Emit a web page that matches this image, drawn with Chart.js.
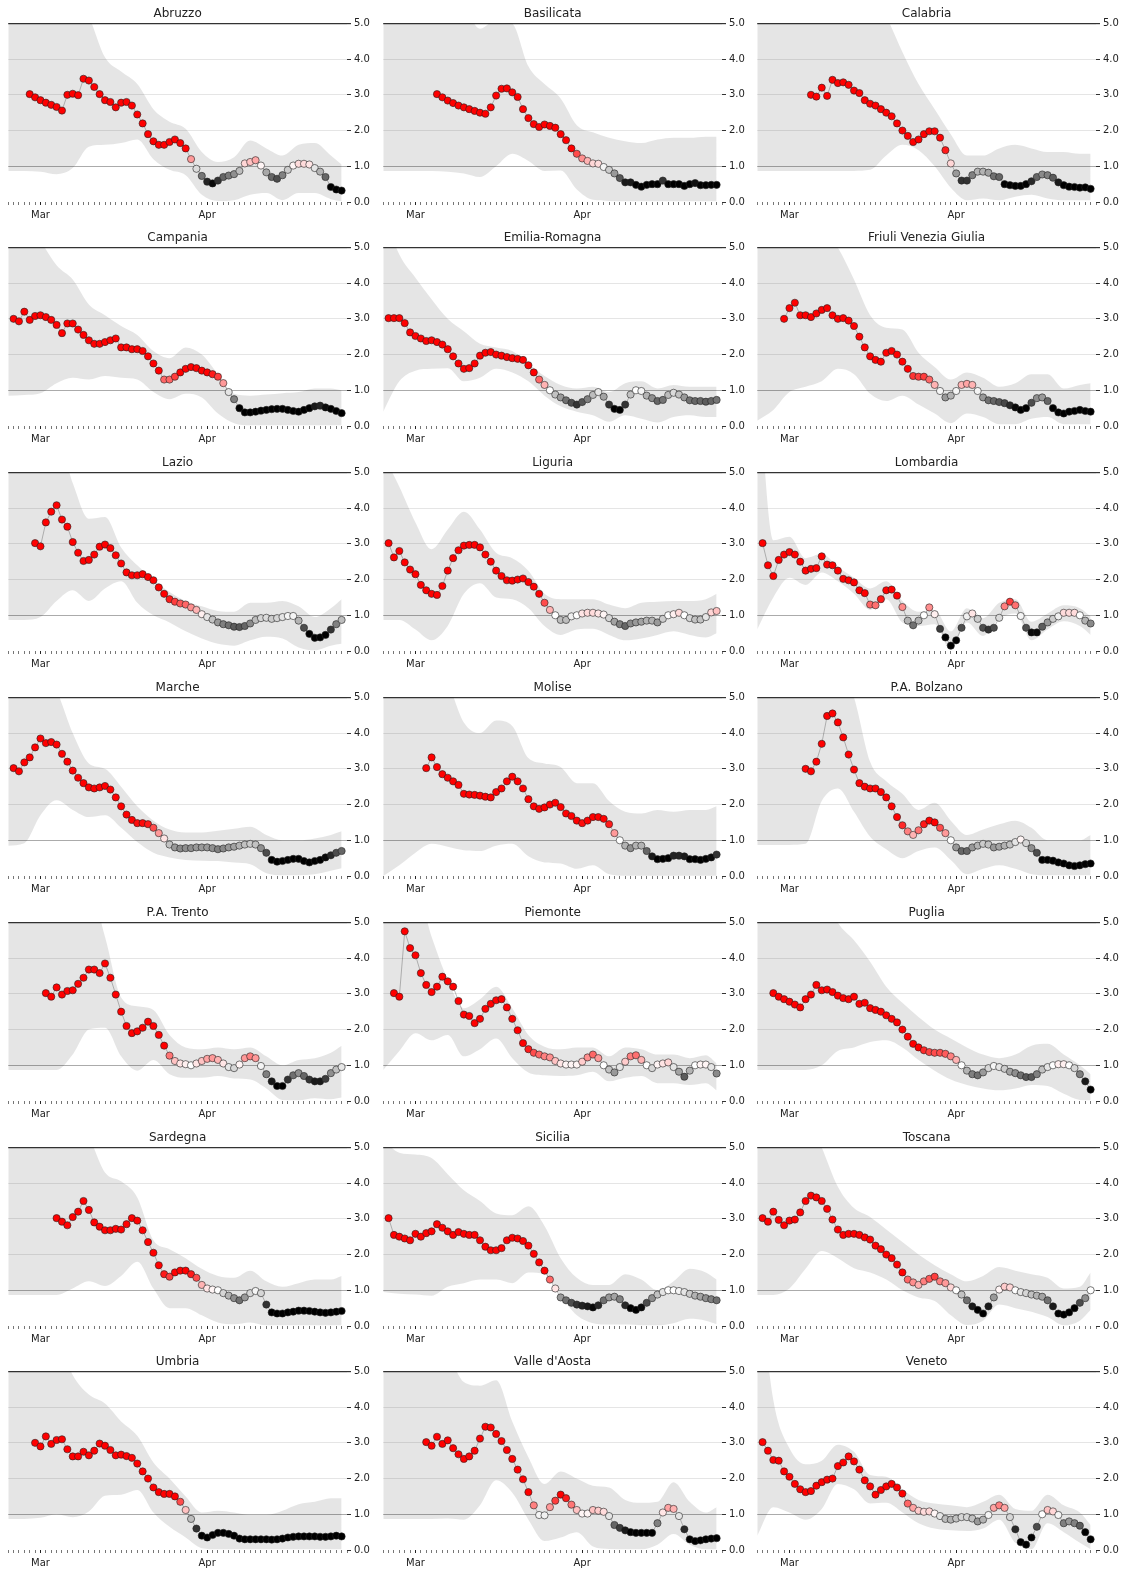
<!DOCTYPE html>
<html>
<head>
<meta charset="utf-8">
<script src="https://cdn.jsdelivr.net/npm/chart.js@4.4.0/dist/chart.umd.min.js"></script>
<style>
  body { margin: 0; background: #fff; width: 1126px; height: 1574px; position: relative; overflow: hidden; }
  canvas { position: absolute; }
</style>
</head>
<body>
<script>
// day index 0 = 2020-02-25, last value of every series is day 61 (2020-04-26)
const lastDay = 61;
const monthDays = [5, 36];
const monthLabels = ['Mar', 'Apr'];
const bandDays = [-1, 2, 5, 8, 11, 14, 17, 20, 23, 26, 29, 32, 35, 38, 41, 44, 47, 50, 53, 56, 59, 61];

const regionNames = ['Abruzzo', 'Basilicata', 'Calabria', 'Campania', 'Emilia-Romagna', 'Friuli Venezia Giulia',
  'Lazio', 'Liguria', 'Lombardia', 'Marche', 'Molise', 'P.A. Bolzano', 'P.A. Trento', 'Piemonte', 'Puglia',
  'Sardegna', 'Sicilia', 'Toscana', 'Umbria', "Valle d'Aosta", 'Veneto'];

const rtAbruzzo = [3.02,2.93,2.85,2.78,2.72,2.66,2.56,3.0,3.03,2.99,3.45,3.4,3.22,3.02,2.85,2.8,2.65,2.78,2.8,2.7,2.45,2.2,1.9,1.7,1.6,1.6,1.68,1.75,1.65,1.5,1.2,0.93,0.73,0.57,0.52,0.6,0.7,0.74,0.78,0.87,1.08,1.12,1.17,1.02,0.83,0.7,0.65,0.75,0.9,1.02,1.07,1.07,1.05,0.95,0.85,0.7,0.42,0.35,0.32];
const lowAbruzzo = [0.87,0.87,0.85,0.78,0.95,1.55,1.6,1.65,1.75,1.2,0.9,0.75,0.2,0.03,0.05,0.2,0.25,0.05,0.25,0.25,0.08,0.02];
const highAbruzzo = [6,6,6,6,6,5.2,4.05,3.65,3.3,2.6,2.25,2.05,1.4,1.12,1.25,1.72,1.5,1.3,1.6,1.65,1.3,1.05];

const rtBasilicata = [3.02,2.93,2.84,2.77,2.7,2.65,2.6,2.55,2.5,2.47,2.65,2.98,3.17,3.18,3.07,2.94,2.6,2.35,2.18,2.1,2.17,2.13,2.08,1.9,1.73,1.5,1.35,1.22,1.15,1.08,1.07,0.98,0.9,0.8,0.67,0.55,0.55,0.48,0.43,0.48,0.5,0.5,0.6,0.5,0.5,0.5,0.45,0.5,0.53,0.47,0.47,0.48,0.48];
const lowBasilicata = [0.87,0.87,0.87,0.87,0.85,0.8,0.7,1.0,1.35,1.15,0.87,0.88,0.35,0.06,0.03,0.02,0.02,0.02,0.02,0.02,0.02,0.02];
const highBasilicata = [6,6,6,6,6,5.5,4.85,5.1,5.0,3.8,3.3,2.9,2.15,1.95,1.8,1.7,1.65,1.75,1.8,1.8,1.83,1.83];

const rtCalabria = [3.0,2.95,3.2,2.97,3.42,3.33,3.35,3.28,3.12,3.05,2.85,2.75,2.7,2.6,2.5,2.4,2.2,2.0,1.85,1.68,1.75,1.9,1.98,1.98,1.8,1.45,1.08,0.8,0.6,0.6,0.75,0.85,0.85,0.82,0.72,0.7,0.5,0.47,0.45,0.45,0.5,0.58,0.7,0.77,0.75,0.68,0.55,0.47,0.43,0.42,0.4,0.41,0.37];
const lowCalabria = [0.87,0.87,0.87,0.87,0.87,0.87,0.87,0.9,1.3,1.6,1.45,1.0,0.4,0.05,0.1,0.05,0.15,0.2,0.1,0.05,0.05,0.05];
const highCalabria = [6,6,6,6,6,6,6,6,5.2,4.2,3.3,2.6,1.9,1.3,1.3,1.5,1.6,1.5,1.4,1.4,1.35,1.35];

const rtCampania = [3.0,2.93,3.2,2.97,3.08,3.1,3.05,2.97,2.83,2.6,2.87,2.87,2.7,2.55,2.4,2.3,2.3,2.35,2.4,2.45,2.2,2.2,2.15,2.15,2.1,1.95,1.75,1.55,1.3,1.3,1.38,1.5,1.6,1.65,1.62,1.55,1.5,1.45,1.38,1.2,0.95,0.75,0.5,0.38,0.38,0.4,0.43,0.45,0.47,0.48,0.48,0.45,0.42,0.4,0.45,0.5,0.55,0.57,0.52,0.48,0.42,0.36];
const lowCampania = [0.85,0.87,0.92,1.2,1.35,1.3,1.4,1.35,1.3,0.95,0.75,0.9,0.8,0.35,0.08,0.02,0.02,0.02,0.02,0.02,0.02,0.02];
const highCampania = [6,6,5.2,4.5,4.1,3.4,3.1,2.8,2.55,2.1,1.9,2.2,2.0,1.45,0.9,0.85,0.88,0.92,0.95,1.05,1.05,1.0];

const rtEmiliaRomagna = [3.02,3.02,3.02,2.88,2.62,2.52,2.45,2.38,2.4,2.35,2.28,2.15,1.95,1.75,1.6,1.62,1.75,1.97,2.05,2.07,2.0,1.97,1.93,1.9,1.88,1.85,1.7,1.5,1.3,1.15,1.0,0.88,0.8,0.72,0.65,0.6,0.67,0.75,0.87,0.95,0.82,0.6,0.48,0.45,0.6,0.88,1.0,0.98,0.85,0.78,0.7,0.73,0.87,0.93,0.88,0.8,0.72,0.7,0.7,0.68,0.7,0.73];
const lowEmiliaRomagna = [0.4,1.25,1.55,1.6,1.62,1.25,1.35,1.6,1.5,1.25,0.85,0.55,0.4,0.3,0.12,0.3,0.2,0.1,0.25,0.3,0.25,0.25];
const highEmiliaRomagna = [6,4.8,4.15,3.55,3.0,2.65,2.3,2.2,2.1,1.75,1.4,1.15,1.05,1.1,0.95,1.2,1.25,1.05,1.15,1.1,1.1,1.1];

const rtFriuli = [3.0,3.3,3.45,3.1,3.1,3.05,3.15,3.25,3.3,3.1,3.0,3.02,2.95,2.8,2.5,2.2,1.95,1.85,1.8,2.05,2.1,2.0,1.8,1.6,1.4,1.38,1.38,1.3,1.15,0.98,0.8,0.85,0.98,1.15,1.18,1.15,0.98,0.8,0.72,0.7,0.67,0.64,0.58,0.52,0.45,0.5,0.65,0.78,0.8,0.7,0.5,0.38,0.35,0.4,0.42,0.45,0.42,0.4];
const lowFriuli = [0.15,0.45,0.95,1.1,1.25,1.6,1.45,0.9,0.7,0.85,0.6,0.35,0.08,0.35,0.25,0.05,0.05,0.2,0.25,0.05,0.05,0.05];
const highFriuli = [6,6,6,6,5.6,5.0,4.1,3.1,2.75,2.7,2.05,1.65,1.3,1.5,1.35,1.1,1.2,1.45,1.45,1.05,1.15,1.2];

const rtLazio = [3.02,2.93,3.6,3.9,4.08,3.68,3.48,3.05,2.75,2.52,2.55,2.7,2.92,2.98,2.88,2.68,2.45,2.2,2.12,2.12,2.15,2.07,1.98,1.78,1.6,1.45,1.38,1.33,1.3,1.22,1.15,1.03,0.95,0.88,0.8,0.75,0.72,0.68,0.67,0.7,0.77,0.87,0.92,0.93,0.9,0.92,0.95,0.98,0.98,0.85,0.65,0.48,0.37,0.38,0.45,0.6,0.75,0.87];
const lowLazio = [0.87,0.87,0.95,1.4,1.7,1.4,1.75,1.95,1.35,1.0,0.8,0.55,0.35,0.2,0.15,0.3,0.4,0.35,0.1,0.02,0.15,0.2];
const highLazio = [6,6,6,6,4.7,3.7,3.75,2.9,2.4,2.0,1.65,1.4,1.25,1.12,1.1,1.35,1.35,1.4,1.25,0.95,1.2,1.45];

const rtLiguria = [3.02,2.62,2.8,2.48,2.28,2.15,1.85,1.7,1.6,1.57,1.82,2.25,2.6,2.82,2.95,2.97,2.97,2.9,2.7,2.5,2.25,2.1,1.98,1.97,2.0,2.03,1.93,1.8,1.6,1.35,1.15,1.0,0.87,0.87,0.97,1.0,1.05,1.07,1.07,1.05,1.02,0.92,0.82,0.75,0.7,0.77,0.8,0.82,0.85,0.85,0.8,0.9,1.0,1.03,1.07,1.0,0.92,0.88,0.88,0.95,1.08,1.12];
const lowLiguria = [0.87,0.87,0.6,0.3,0.7,1.6,1.9,1.5,1.45,1.2,0.7,0.45,0.6,0.62,0.45,0.3,0.35,0.45,0.55,0.45,0.38,0.5];
const highLiguria = [5.5,4.6,3.6,2.85,3.4,3.9,3.4,2.75,2.6,2.25,1.6,1.45,1.45,1.45,1.3,1.2,1.35,1.38,1.4,1.4,1.45,1.6];

const rtLombardia = [3.02,2.4,2.1,2.55,2.7,2.77,2.7,2.5,2.25,2.3,2.32,2.65,2.42,2.4,2.25,2.02,1.98,1.92,1.7,1.62,1.3,1.28,1.45,1.7,1.72,1.55,1.23,0.85,0.72,0.85,1.0,1.22,1.03,0.62,0.38,0.15,0.3,0.65,0.97,1.05,0.9,0.65,0.6,0.65,0.93,1.25,1.38,1.28,0.98,0.65,0.52,0.52,0.68,0.8,0.9,0.97,1.07,1.07,1.07,1.0,0.85,0.77];
const lowLombardia = [0.6,1.5,2.05,1.85,2.2,1.95,1.6,1.15,1.45,0.8,0.7,0.75,0.02,0.8,0.42,0.9,1.05,0.3,0.6,0.83,0.7,0.45];
const highLombardia = [8,3.1,3.2,2.6,2.72,2.35,2.05,1.75,1.95,1.4,1.1,1.15,0.55,1.2,0.92,1.35,1.45,0.82,1.05,1.28,1.2,0.97];

const rtMarche = [3.02,2.93,3.18,3.32,3.6,3.85,3.72,3.75,3.68,3.42,3.2,2.95,2.75,2.6,2.48,2.45,2.48,2.52,2.42,2.2,1.95,1.72,1.57,1.48,1.48,1.45,1.35,1.2,1.05,0.88,0.8,0.77,0.78,0.78,0.8,0.8,0.8,0.78,0.75,0.77,0.8,0.82,0.85,0.88,0.9,0.88,0.78,0.65,0.45,0.4,0.42,0.45,0.48,0.48,0.42,0.38,0.42,0.45,0.52,0.58,0.65,0.7];
const lowMarche = [0.85,0.92,1.7,2.12,1.85,1.65,1.7,1.35,0.95,0.65,0.52,0.45,0.43,0.42,0.38,0.33,0.08,0.02,0.02,0.05,0.15,0.22];
const highMarche = [6,6,6,5.2,4.0,3.15,3.0,2.5,1.95,1.55,1.3,1.22,1.22,1.27,1.32,1.38,1.15,1.0,1.0,1.05,1.15,1.25];

const rtMolise = [3.02,3.32,3.05,2.85,2.75,2.65,2.55,2.3,2.28,2.27,2.25,2.22,2.2,2.35,2.45,2.65,2.78,2.65,2.45,2.15,1.95,1.88,1.92,2.0,2.05,1.93,1.75,1.68,1.55,1.48,1.55,1.65,1.65,1.6,1.45,1.2,1.0,0.85,0.78,0.85,0.85,0.7,0.55,0.47,0.48,0.5,0.57,0.57,0.55,0.47,0.47,0.45,0.48,0.52,0.6];
const lowMolise = [0.0,0.3,0.65,0.9,0.82,0.72,0.7,0.85,0.9,0.55,0.38,0.35,0.2,0.3,0.05,0.01,0.01,0.01,0.01,0.01,0.01,0.01];
const highMolise = [6,6,6,6,5.4,4.3,4.0,4.35,4.2,3.3,3.15,3.05,2.6,2.6,2.1,1.8,1.75,1.85,1.8,1.85,1.85,1.95];

const rtBolzano = [3.0,2.93,3.2,3.7,4.48,4.55,4.3,3.88,3.4,2.98,2.6,2.5,2.45,2.45,2.35,2.2,1.95,1.65,1.42,1.25,1.15,1.28,1.45,1.55,1.5,1.35,1.2,1.0,0.8,0.7,0.7,0.8,0.85,0.9,0.88,0.8,0.82,0.85,0.88,0.95,1.02,0.92,0.78,0.65,0.45,0.45,0.43,0.38,0.35,0.3,0.28,0.3,0.33,0.35];
const lowBolzano = [0.87,0.87,0.87,0.9,2.1,2.45,1.8,1.1,0.75,0.5,0.7,0.8,0.45,0.05,0.2,0.3,0.2,0.05,0.02,0.02,0.02,0.02];
const highBolzano = [6,6,6,6,6,6,5.0,3.2,2.65,2.3,1.85,2.05,1.55,1.15,1.3,1.45,1.55,1.35,1.0,1.0,1.0,1.15];

const rtTrento = [3.02,2.92,3.18,2.98,3.08,3.1,3.28,3.45,3.68,3.68,3.58,3.85,3.45,2.98,2.5,2.1,1.9,1.95,2.05,2.22,2.1,1.85,1.55,1.27,1.12,1.05,1.03,1.0,1.05,1.12,1.18,1.2,1.15,1.05,0.95,0.92,1.02,1.2,1.25,1.2,0.98,0.75,0.55,0.42,0.42,0.6,0.72,0.78,0.7,0.6,0.55,0.55,0.62,0.78,0.88,0.95];
const lowTrento = [0.87,0.87,0.87,0.87,1.3,2.0,2.05,1.25,0.85,1.15,0.75,0.65,0.65,0.7,0.63,0.6,0.35,0.03,0.02,0.08,0.05,0.1];
const highTrento = [6,6,6,6,6,6,4.6,2.9,2.65,2.55,1.85,1.5,1.45,1.5,1.45,1.5,1.25,1.0,1.15,1.2,1.35,1.55];

const rtPiemonte = [3.02,2.92,4.75,4.28,4.08,3.58,3.25,3.05,3.2,3.48,3.35,3.2,2.8,2.42,2.38,2.18,2.3,2.58,2.72,2.82,2.85,2.62,2.3,1.98,1.62,1.45,1.35,1.3,1.25,1.22,1.12,1.05,1.02,1.02,1.02,1.1,1.22,1.3,1.2,1.0,0.88,0.8,0.95,1.1,1.25,1.28,1.15,1.0,0.92,1.02,1.05,1.08,0.95,0.82,0.68,0.85,1.0,1.02,1.02,0.95,0.77];
const lowPiemonte = [0.87,1.4,1.9,1.7,1.85,1.25,1.45,1.75,1.2,0.8,0.72,0.7,0.72,0.82,0.55,0.65,0.7,0.5,0.5,0.45,0.5,0.3];
const highPiemonte = [6,6,6,4.6,3.4,2.6,2.85,3.2,2.6,1.85,1.52,1.45,1.5,1.5,1.25,1.5,1.45,1.3,1.3,1.2,1.28,1.05];

const rtPuglia = [3.02,2.92,2.85,2.78,2.7,2.62,2.85,2.98,3.25,3.1,3.12,3.05,2.95,2.88,2.85,2.92,2.72,2.75,2.6,2.55,2.5,2.4,2.3,2.2,2.0,1.8,1.6,1.5,1.42,1.37,1.35,1.35,1.32,1.25,1.15,1.0,0.85,0.75,0.72,0.8,0.92,0.98,0.95,0.9,0.82,0.78,0.72,0.67,0.67,0.75,0.88,0.95,1.0,1.03,1.03,1.0,0.92,0.75,0.55,0.32];
const lowPuglia = [0.87,0.87,0.87,0.87,1.0,1.4,1.5,1.65,1.7,1.5,1.15,0.85,0.6,0.45,0.35,0.3,0.35,0.45,0.42,0.2,0.03,0.02];
const highPuglia = [6,6,6,6,6,5.0,4.5,3.9,3.2,2.75,2.35,2.0,1.75,1.5,1.3,1.2,1.3,1.55,1.6,1.3,1.0,0.75];

const rtSardegna = [3.02,2.92,2.82,3.05,3.2,3.5,3.25,2.9,2.78,2.68,2.68,2.72,2.7,2.85,3.02,2.95,2.68,2.35,2.05,1.7,1.45,1.38,1.5,1.55,1.55,1.45,1.35,1.15,1.05,1.02,1.0,0.92,0.85,0.78,0.72,0.8,0.92,0.98,0.92,0.6,0.38,0.35,0.35,0.38,0.4,0.43,0.43,0.42,0.4,0.38,0.37,0.38,0.4,0.42];
const lowSardegna = [0.87,0.87,0.87,0.87,1.05,1.25,1.12,1.4,1.8,1.05,0.5,0.5,0.3,0.1,0.05,0.1,0.02,0.02,0.02,0.02,0.02,0.02];
const highSardegna = [6,6,6,6,6,5.3,4.3,4.05,3.6,2.4,2.15,1.9,1.6,1.4,1.35,1.55,1.25,1.1,1.2,1.3,1.3,1.4];

const rtSicilia = [3.02,2.55,2.5,2.45,2.4,2.58,2.5,2.6,2.65,2.85,2.75,2.65,2.55,2.63,2.58,2.55,2.55,2.4,2.22,2.12,2.12,2.18,2.4,2.47,2.45,2.38,2.25,2.02,1.78,1.55,1.3,1.05,0.8,0.72,0.65,0.6,0.57,0.55,0.52,0.58,0.72,0.8,0.82,0.75,0.58,0.5,0.45,0.52,0.65,0.78,0.88,0.95,1.0,1.0,0.98,0.95,0.9,0.85,0.82,0.78,0.75,0.72];
const lowSicilia = [0.95,0.9,0.88,0.85,1.1,1.2,1.3,1.3,1.2,1.5,1.45,0.85,0.3,0.08,0.04,0.04,0.02,0.02,0.08,0.2,0.15,0.05];
const highSicilia = [5.2,4.85,4.8,4.7,4.25,3.8,3.5,3.15,3.1,3.35,2.8,1.9,1.35,1.15,1.15,1.45,1.3,1.0,1.25,1.6,1.5,1.3];

const rtToscana = [3.02,2.92,3.2,2.97,2.82,2.95,2.98,3.18,3.5,3.65,3.6,3.5,3.28,2.98,2.7,2.55,2.58,2.58,2.55,2.48,2.42,2.25,2.15,2.0,1.9,1.72,1.5,1.3,1.22,1.15,1.25,1.32,1.38,1.25,1.2,1.08,1.0,0.88,0.72,0.55,0.45,0.35,0.55,0.8,1.02,1.1,1.08,1.0,0.95,0.92,0.88,0.85,0.82,0.72,0.55,0.35,0.32,0.38,0.5,0.65,0.78,1.0];
const lowToscana = [0.87,0.87,1.05,1.6,2.1,1.9,1.62,1.5,1.3,1.0,0.8,0.7,0.3,0.03,0.15,0.6,0.5,0.4,0.25,0.02,0.15,0.45];
const highToscana = [6,6,6,6,5.0,3.9,3.3,3.05,2.7,2.35,2.0,1.7,1.45,1.25,1.4,1.65,1.55,1.45,1.35,1.05,1.1,1.5];

const rtUmbria = [3.0,2.9,3.18,2.97,3.08,3.1,2.82,2.62,2.62,2.75,2.65,2.78,2.98,2.92,2.8,2.65,2.67,2.63,2.58,2.42,2.2,2.0,1.75,1.62,1.57,1.57,1.5,1.35,1.12,0.87,0.6,0.4,0.35,0.42,0.48,0.48,0.45,0.4,0.32,0.3,0.3,0.3,0.3,0.3,0.29,0.3,0.32,0.35,0.37,0.38,0.38,0.38,0.38,0.37,0.37,0.38,0.4,0.38];
const lowUmbria = [0.87,0.87,0.9,1.0,0.92,1.08,1.52,1.55,1.68,1.05,0.65,0.35,0.05,0.02,0.02,0.02,0.02,0.02,0.02,0.02,0.02,0.02];
const highUmbria = [6,6,6,6,4.9,4.35,4.1,3.6,3.2,2.45,2.0,1.5,1.05,1.1,1.05,0.98,0.98,1.1,1.28,1.35,1.45,1.45];

const rtValleAosta = [3.02,2.92,3.17,2.97,3.07,2.85,2.68,2.55,2.62,2.78,3.12,3.45,3.43,3.25,3.05,2.8,2.55,2.25,1.98,1.62,1.25,0.98,0.97,1.2,1.38,1.55,1.45,1.27,1.12,1.02,1.02,1.12,1.1,1.07,0.95,0.7,0.62,0.55,0.5,0.48,0.48,0.48,0.48,0.75,1.05,1.18,1.15,0.95,0.58,0.3,0.25,0.27,0.3,0.32,0.33];
const lowValleAosta = [0.87,0.87,0.87,0.87,0.88,0.85,1.25,1.95,1.6,0.85,0.25,0.35,0.5,0.1,0.03,0.02,0.02,0.15,0.45,0.15,0.02,0.02];
const highValleAosta = [6,6,6,6,5.5,4.7,4.6,4.75,3.6,2.6,1.85,2.2,2.0,1.8,1.75,1.4,1.32,1.35,1.9,1.35,1.05,1.2];

const rtVeneto = [3.02,2.78,2.52,2.5,2.2,2.05,1.85,1.7,1.62,1.65,1.8,1.9,1.97,2.0,2.35,2.45,2.62,2.48,2.25,1.95,1.78,1.55,1.68,1.78,1.85,1.75,1.58,1.3,1.18,1.1,1.07,1.08,1.02,0.95,0.87,0.85,0.88,0.92,0.92,0.88,0.8,0.85,0.98,1.18,1.25,1.18,0.92,0.58,0.22,0.15,0.35,0.65,1.0,1.12,1.08,0.98,0.75,0.8,0.75,0.68,0.5,0.3];
const lowVeneto = [0.4,1.2,1.05,0.85,1.15,1.85,1.7,1.3,1.32,1.05,0.75,0.6,0.55,0.53,0.6,0.85,0.2,0.02,0.75,0.5,0.2,0.02];
const highVeneto = [8,4.2,2.85,2.4,2.5,2.95,2.75,2.1,2.05,1.7,1.4,1.3,1.25,1.2,1.35,1.55,1.15,1.1,1.55,1.25,1.05,0.7];

const regionSeries = [
  [rtAbruzzo, lowAbruzzo, highAbruzzo],
  [rtBasilicata, lowBasilicata, highBasilicata],
  [rtCalabria, lowCalabria, highCalabria],
  [rtCampania, lowCampania, highCampania],
  [rtEmiliaRomagna, lowEmiliaRomagna, highEmiliaRomagna],
  [rtFriuli, lowFriuli, highFriuli],
  [rtLazio, lowLazio, highLazio],
  [rtLiguria, lowLiguria, highLiguria],
  [rtLombardia, lowLombardia, highLombardia],
  [rtMarche, lowMarche, highMarche],
  [rtMolise, lowMolise, highMolise],
  [rtBolzano, lowBolzano, highBolzano],
  [rtTrento, lowTrento, highTrento],
  [rtPiemonte, lowPiemonte, highPiemonte],
  [rtPuglia, lowPuglia, highPuglia],
  [rtSardegna, lowSardegna, highSardegna],
  [rtSicilia, lowSicilia, highSicilia],
  [rtToscana, lowToscana, highToscana],
  [rtUmbria, lowUmbria, highUmbria],
  [rtValleAosta, lowValleAosta, highValleAosta],
  [rtVeneto, lowVeneto, highVeneto]
];

Chart.defaults.font.family = "'DejaVu Sans', sans-serif";
Chart.defaults.color = '#222';

// black below 0.5, white at 1.0, red above 1.5
function rtColor(v) {
  const t = Math.min(Math.max(v, 0.5), 1.5) - 0.5;
  if (t <= 0.5) {
    const g = Math.round(255 * t / 0.5);
    return 'rgb(' + g + ',' + g + ',' + g + ')';
  }
  const g = Math.round(255 * (1 - (t - 0.5) / 0.5));
  return 'rgb(255,' + g + ',' + g + ')';
}

const xTickDays = [];
for (let d = -1; d <= lastDay + 1; d++) xTickDays.push(d);

// layout of the 7x3 grid
const plotW = 339, plotH = 179, titleH = 20.4, xAxisH = 22, yAxisW = 36, padL = 4;

regionNames.forEach(function (name, k) {
  const rt = regionSeries[k][0], low = regionSeries[k][1], high = regionSeries[k][2];
  const row = Math.floor(k / 3), col = k % 3;
  const w = padL + plotW + yAxisW;
  const h = Math.round(titleH + plotH + xAxisH);
  const canvas = document.createElement('canvas');
  canvas.width = w;
  canvas.height = h;
  canvas.style.left = Math.round(8 + 374.5 * col - padL) + 'px';
  canvas.style.top = Math.round(23 + 224.8 * row - titleH) + 'px';
  canvas.style.width = w + 'px';
  canvas.style.height = h + 'px';
  document.body.appendChild(canvas);

  const first = lastDay - rt.length + 1;
  const rtPoints = rt.map(function (v, j) { return {x: first + j, y: v}; });
  const lowPoints = bandDays.map(function (d, j) { return {x: d, y: low[j]}; });
  const highPoints = bandDays.map(function (d, j) { return {x: d, y: high[j]}; });

  new Chart(canvas, {
    type: 'line',
    data: {
      datasets: [
        {
          data: rtPoints,
          borderColor: 'rgba(0,0,0,0.25)',
          borderWidth: 1,
          pointRadius: 3.6,
          pointHoverRadius: 3.6,
          pointBorderWidth: 0.6,
          pointBorderColor: '#222',
          pointBackgroundColor: function (ctx) { return rtColor(ctx.raw.y); },
          clip: false
        },
        {
          data: highPoints,
          borderWidth: 0,
          pointRadius: 0,
          cubicInterpolationMode: 'monotone',
          backgroundColor: 'rgba(0,0,0,0.1)',
          fill: '+1'
        },
        {
          data: lowPoints,
          borderWidth: 0,
          pointRadius: 0,
          cubicInterpolationMode: 'monotone',
          fill: false
        }
      ]
    },
    options: {
      responsive: false,
      animation: false,
      devicePixelRatio: 1,
      events: [],
      layout: {padding: {left: padL, right: 0, top: 0, bottom: 0}},
      plugins: {
        legend: {display: false},
        tooltip: {enabled: false},
        title: {
          display: true,
          text: name,
          fullSize: false,
          color: '#222',
          font: {size: 12, weight: 'normal'},
          padding: {top: 3.5, bottom: 2.5}
        }
      },
      scales: {
        x: {
          type: 'linear',
          min: -1,
          max: lastDay + 1,
          afterFit: function (s) { s.height = xAxisH; },
          afterBuildTicks: function (s) { s.ticks = xTickDays.map(function (d) { return {value: d}; }); },
          border: {display: false},
          grid: {
            drawOnChartArea: false,
            tickLength: 3,
            tickColor: function (ctx) { return monthDays.indexOf(ctx.tick.value) >= 0 ? '#222' : '#777'; }
          },
          ticks: {
            autoSkip: false,
            maxRotation: 0,
            padding: 4,
            font: {size: 10},
            color: '#222',
            callback: function (v) {
              const m = monthDays.indexOf(v);
              return m >= 0 ? monthLabels[m] : '';
            }
          }
        },
        y: {
          position: 'right',
          min: 0,
          max: 5,
          afterFit: function (s) { s.width = yAxisW; },
          border: {display: false},
          grid: {
            color: function (ctx) {
              const v = ctx.tick.value;
              if (v === 0) return 'rgba(0,0,0,0)';
              if (v === 5) return '#333';
              if (v === 1) return 'rgba(0,0,0,0.33)';
              return 'rgba(0,0,0,0.1)';
            },
            lineWidth: function (ctx) { return ctx.tick.value === 5 ? 1.2 : 1; },
            tickLength: 4,
            tickColor: '#333'
          },
          ticks: {
            stepSize: 1,
            padding: 3,
            font: {size: 10},
            color: '#222',
            callback: function (v) { return v.toFixed(1); }
          }
        }
      }
    }
  });
});
</script>
</body>
</html>
